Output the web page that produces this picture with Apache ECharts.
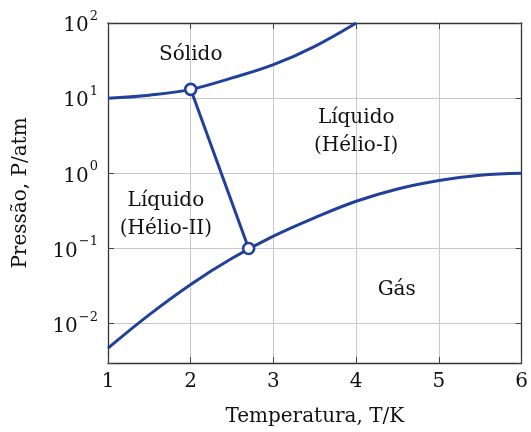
<!DOCTYPE html>
<html>
<head>
<meta charset="utf-8">
<script src="https://cdn.jsdelivr.net/npm/echarts@6/dist/echarts.min.js"></script>
<style>
html,body{margin:0;padding:0;background:#fff;}
#chart{width:531px;height:432px;}
</style>
</head>
<body>
<div id="chart"></div>
<script>
// Melting curve (solid / liquid)
var meltT = [1, 1.5, 2, 2.5, 3, 3.5, 4];
var meltP = [10, 10.96, 13.1, 18.6, 27.9, 49.0, 100];
// Vapour pressure curve (liquid / gas)
var vapT = [1, 1.5, 2, 2.5, 3, 3.5, 4, 4.5, 5, 5.5, 6];
var vapP = [0.00473, 0.0132, 0.0333, 0.0741, 0.146, 0.257, 0.425, 0.619, 0.803, 0.944, 1.0];
// Lambda line between the two triple points
var lamT = [2, 2.7];
var lamP = [13.1, 0.1];
// Region labels
var regionText = ['Sólido', 'Líquido\n(Hélio-I)', 'Líquido\n(Hélio-II)', 'Gás'];
var regionT = [2.0, 4.0, 1.7, 4.49];
var regionP = [37.9, 3.57, 0.28, 0.028];

var xMin = 1, xMax = 6, yMin = 0.003, yMax = 100;
var FONT = 'DejaVu Serif';
var BLUE = '#21409a';

function pairs(a, b) { return a.map(function (v, i) { return [v, b[i]]; }); }

function logLabel(v) {
  var l = Math.log10(v);
  var e = Math.round(l);
  if (Math.abs(l - e) > 1e-6) return '';
  var s = e < 0 ? '\u2212' + (-e) : String(e);
  return '{b|10}{s|' + s + '}';
}

var chart = echarts.init(document.getElementById('chart'));
var tickStyle = { show: true, inside: true, length: 6, lineStyle: { color: '#3a4250', width: 1 } };
var frameLine = { show: true, onZero: false, lineStyle: { color: '#333', width: 1.3 } };

chart.setOption({
  animation: false,
  backgroundColor: '#fff',
  grid: { left: 108, right: 8, top: 23, bottom: 65 },
  xAxis: [{
    type: 'value', min: xMin, max: xMax, interval: 1,
    name: 'Temperatura, T/K', nameLocation: 'middle', nameGap: 44,
    nameTextStyle: { fontFamily: FONT, fontSize: 20, color: '#111' },
    axisLine: frameLine, axisTick: tickStyle,
    axisLabel: { fontFamily: FONT, fontSize: 20, color: '#111', margin: 9 },
    splitLine: { show: true, lineStyle: { color: '#c8c8c8', width: 1 } }
  }, {
    type: 'value', position: 'top', min: xMin, max: xMax, interval: 1,
    axisLine: frameLine, axisTick: tickStyle, axisLabel: { show: false }, splitLine: { show: false }
  }],
  yAxis: [{
    type: 'log', logBase: 10, min: yMin, max: yMax,
    name: 'Pressão, P/atm', nameLocation: 'middle', nameGap: 77, nameRotate: 90,
    nameTextStyle: { fontFamily: FONT, fontSize: 20, color: '#111' },
    axisLine: frameLine, axisTick: tickStyle,
    axisLabel: {
      formatter: logLabel, margin: 10,
      rich: {
        b: { fontFamily: FONT, fontSize: 20, color: '#111', lineHeight: 26, verticalAlign: 'bottom' },
        s: { fontFamily: FONT, fontSize: 13, color: '#111', lineHeight: 26, verticalAlign: 'top', padding: [0, 0, 0, 1] }
      }
    },
    splitLine: { show: true, lineStyle: { color: '#c8c8c8', width: 1 } }
  }, {
    type: 'log', logBase: 10, min: yMin, max: yMax, position: 'right',
    axisLine: frameLine, axisTick: tickStyle, axisLabel: { show: false }, splitLine: { show: false }
  }],
  series: [{
    type: 'line', data: pairs(meltT, meltP), smooth: 0.4, showSymbol: false,
    lineStyle: { color: BLUE, width: 3 }, z: 3
  }, {
    type: 'line', data: pairs(vapT, vapP), smooth: 0.4, showSymbol: false,
    lineStyle: { color: BLUE, width: 3 }, z: 3
  }, {
    type: 'line', data: pairs(lamT, lamP), showSymbol: true, symbol: 'circle', symbolSize: 11,
    lineStyle: { color: BLUE, width: 3 },
    itemStyle: { color: '#fff', borderColor: BLUE, borderWidth: 2.6 }, z: 4
  }, {
    type: 'scatter', symbolSize: 0, silent: true, z: 5,
    itemStyle: { opacity: 1 },
    data: regionT.map(function (t, i) { return { value: [t, regionP[i]], name: regionText[i] }; }),
    label: {
      show: true, position: 'inside', formatter: function (p) { return p.name; },
      fontFamily: FONT, fontSize: 20, color: '#111', opacity: 1, textBorderWidth: 0,
      lineHeight: 28, align: 'center', verticalAlign: 'middle'
    }
  }]
});
</script>
</body>
</html>
